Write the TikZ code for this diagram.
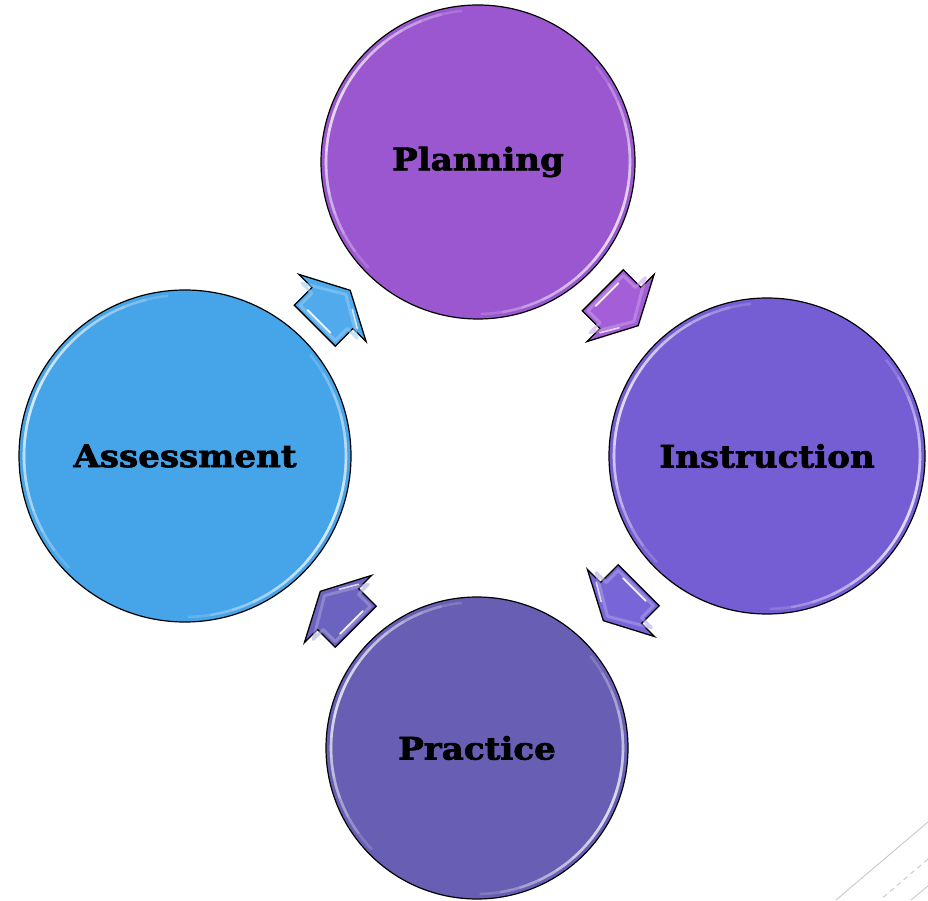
\documentclass[tikz,border=0pt]{standalone}
\usepackage{fontspec}
\setmainfont{DejaVu Serif}
\newfontfamily\stagefont{DejaVu Serif Bold}[FakeBold=2]
\usetikzlibrary{calc}

% stage colours
\definecolor{planC}{RGB}{155,87,208}
\definecolor{instrC}{RGB}{117,93,212}
\definecolor{practC}{RGB}{104,94,180}
\definecolor{assessC}{RGB}{70,164,232}
% arrow colours
\definecolor{arrA}{RGB}{80,170,236}
\definecolor{arrB}{RGB}{164,94,216}
\definecolor{arrC}{RGB}{120,102,216}
\definecolor{arrD}{RGB}{108,98,192}
\definecolor{deco}{RGB}{200,200,200}

% wide heavy label text
\newcommand{\stagelabel}[1]{\scalebox{1.1}[1]{#1}}

% glossy rim highlight: centre, radius, angle of brightest point
\newcommand{\rimgloss}[3]{%
  \begin{scope}[shift={(#1)}]
    \foreach \s in {8,16,24,32,40,48,56,64}{
      \draw[white, opacity=.17, line width=2.6pt]
        (#3+\s:#2) arc[start angle=#3+\s, end angle=#3-\s, radius=#2];
    }
  \end{scope}}

\tikzset{
  stage/.style={circle, draw=black, line width=1.2pt, inner sep=0pt,
    font=\stagefont\fontsize{31}{34}\selectfont, text=black},
  pics/cyclearrow/.style={code={
    \path[fill=#1, draw=black, line width=1.3pt, line join=miter]
      (-25,29) -- (0,29) -- (0,47.5) -- (25,0) -- (0,-47.5) -- (0,-29) -- (-25,-29) -- cycle;
    % soft bevel
    \draw[#1!60!white, opacity=.55, line width=3pt, line join=round]
      (-21,25) -- (-4,25) -- (-4,39) -- (19,0) -- (-4,-39) -- (-4,-25) -- (-21,-25) -- cycle;
    % shine
    \draw[white, opacity=.9, line width=1.8pt, line cap=round]
      (-19,16) -- (-19,-16);
    \draw[white, opacity=.75, line width=1.6pt, line cap=round]
      (3,-32) -- (13,-15);
  }},
  decoline/.style={draw=deco, line width=0.9pt},
}

\begin{document}
\begin{tikzpicture}[x=1pt, y=1pt]
  \path[use as bounding box] (0,0) rectangle (928,900);

  % the four stages
  \node[stage, fill=planC,   minimum size=314pt] (plan)   at (478,738) {\stagelabel{Planning}};
  \node[stage, fill=instrC,  minimum size=316pt] (instr)  at (767,444) {\stagelabel{Instruction}};
  \node[stage, fill=practC,  minimum size=302pt] (pract)  at (477,152) {\stagelabel{Practice}};
  \node[stage, fill=assessC, minimum size=332pt] (assess) at (185,444) {\stagelabel{Assessment}};

  % rim highlights
  \rimgloss{plan.center}{152}{160}
  \rimgloss{plan.center}{152}{-25}
  \rimgloss{instr.center}{153}{160}
  \rimgloss{instr.center}{153}{-25}
  \rimgloss{pract.center}{146}{160}
  \rimgloss{pract.center}{146}{-25}
  \rimgloss{assess.center}{161}{160}
  \rimgloss{assess.center}{161}{-25}

  % cycle arrows between the stages
  \pic[rotate=45]   at ($(assess)!0.5!(plan)+(1,1)$)   {cyclearrow=arrA};
  \pic[rotate=-45]  at ($(plan)!0.5!(instr)+(-2,1)$)   {cyclearrow=arrB};
  \pic[rotate=-135] at ($(instr)!0.5!(pract)+(-1,-1)$) {cyclearrow=arrC};
  \pic[rotate=135]  at ($(pract)!0.5!(assess)+(7,-7)$) {cyclearrow=arrD};

  % corner ornament lines
  \draw[decoline] (928,78) -- (836,0);
  \draw[decoline, dashed, dash pattern=on 5pt off 4pt] (928,41) -- (880,0);
  \draw[decoline] (928,14) -- (911,0);
\end{tikzpicture}
\end{document}
